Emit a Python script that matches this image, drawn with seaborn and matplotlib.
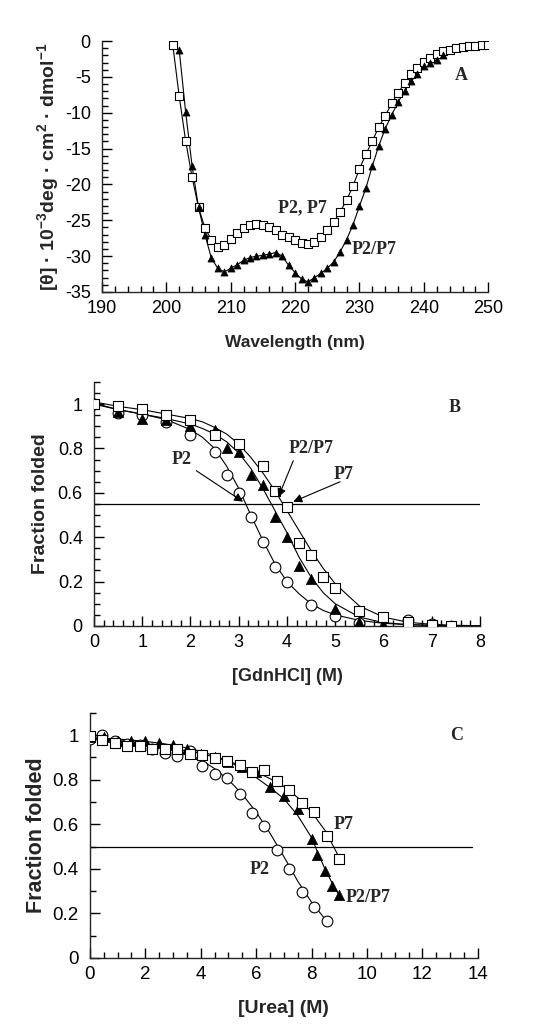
import numpy as np
import pandas as pd
import seaborn as sns
import matplotlib.pyplot as plt
from matplotlib.ticker import MultipleLocator

# ---- panel A: CD spectra ----
wl_sq = list(range(201, 251))
cd_sq = [-0.5, -7.7, -13.9, -19.0, -23.2, -26.1, -27.7, -28.7, -28.4, -27.6,
         -26.8, -26.1, -25.7, -25.5, -25.7, -26.0, -26.4, -27.0, -27.4, -27.8,
         -28.2, -28.3, -28.0, -27.4, -26.4, -25.3, -23.8, -22.2, -20.2, -17.8,
         -15.8, -13.9, -12.0, -10.4, -8.7, -7.2, -5.9, -4.6, -3.8, -2.9,
         -2.3, -1.8, -1.4, -1.2, -0.9, -0.8, -0.7, -0.7, -0.6, -0.6]
wl_tri = list(range(202, 244))
cd_tri = [-1.2, -9.9, -17.4, -23.2, -27.0, -30.3, -31.7, -32.2, -31.7, -31.2,
          -30.6, -30.2, -30.0, -29.9, -29.7, -29.5, -30.0, -31.3, -32.3, -33.2,
          -33.6, -33.0, -32.4, -31.7, -30.8, -29.4, -27.7, -25.6, -23.0, -20.5,
          -17.4, -14.6, -12.2, -10.3, -8.5, -7.0, -5.6, -4.6, -3.5, -3.0,
          -2.6, -2.0]

# ---- panel B: GdnHCl denaturation (points) ----
gdn_p7 = [0.0, 0.5, 1.0, 1.5, 2.0, 2.5, 3.0, 3.5, 3.75, 4.0, 4.25, 4.5, 4.75, 5.0, 5.5, 6.0, 6.5, 7.0, 7.4]
ff_p7 = [1.0, 0.99, 0.98, 0.95, 0.93, 0.86, 0.82, 0.72, 0.61, 0.535, 0.375, 0.32, 0.22, 0.17, 0.066, 0.04, 0.02, 0.003, 0.0]
gdn_p2 = [0.0, 0.5, 1.0, 1.5, 2.0, 2.5, 2.75, 3.0, 3.25, 3.5, 3.75, 4.0, 4.5, 5.0, 5.5, 6.5, 7.0]
ff_p2 = [1.0, 0.96, 0.95, 0.92, 0.86, 0.785, 0.68, 0.60, 0.49, 0.38, 0.265, 0.20, 0.093, 0.043, 0.015, 0.025, 0.01]
gdn_p27 = [0.0, 0.5, 1.0, 1.5, 2.0, 2.5, 2.75, 3.0, 3.25, 3.5, 3.75, 4.0, 4.25, 4.5, 5.0, 5.5, 6.0, 6.5, 7.0]
ff_p27 = [1.0, 0.965, 0.935, 0.93, 0.90, 0.885, 0.80, 0.785, 0.68, 0.635, 0.49, 0.40, 0.27, 0.21, 0.078, 0.018, 0.01, 0.0, 0.0]

# panel B fitted curves
gdn_fit = [0, 0.5, 1, 1.5, 2, 2.25, 2.5, 2.75, 3, 3.25, 3.5, 3.75, 4, 4.25, 4.5, 4.75, 5, 5.5, 6, 6.5, 7, 7.5, 8]
fit_b_p2 = [1.005, 0.975, 0.955, 0.93, 0.885, 0.85, 0.80, 0.72, 0.62, 0.50, 0.385, 0.28, 0.20, 0.145, 0.10,
            0.07, 0.05, 0.025, 0.012, 0.006, 0.003, 0.001, 0.0]
fit_b_p27 = [1.0, 0.975, 0.955, 0.935, 0.91, 0.89, 0.865, 0.83, 0.78, 0.71, 0.62, 0.52, 0.42, 0.31, 0.22,
             0.15, 0.10, 0.04, 0.015, 0.006, 0.002, 0.001, 0.0]
fit_b_p7 = [1.01, 0.99, 0.975, 0.955, 0.935, 0.92, 0.895, 0.865, 0.82, 0.76, 0.69, 0.61, 0.52, 0.43, 0.34,
            0.26, 0.19, 0.09, 0.04, 0.017, 0.007, 0.003, 0.001]

# ---- panel C: urea denaturation (points) ----
urea_p7 = [0.0, 0.45, 0.9, 1.35, 1.8, 2.25, 2.7, 3.15, 3.6, 4.05, 4.5, 4.95, 5.4, 5.85, 6.3, 6.75, 7.2, 7.65, 8.1, 8.55, 9.0]
ff_c_p7 = [0.995, 0.98, 0.963, 0.952, 0.952, 0.936, 0.94, 0.936, 0.915, 0.909, 0.896, 0.885, 0.866, 0.833, 0.843,
           0.794, 0.754, 0.694, 0.657, 0.548, 0.445]
urea_p2 = [0.0, 0.45, 0.9, 1.35, 1.8, 2.25, 2.7, 3.15, 3.6, 4.05, 4.5, 4.95, 5.4, 5.85, 6.3, 6.75, 7.2, 7.65, 8.1, 8.55]
ff_c_p2 = [0.985, 1.0, 0.975, 0.96, 0.955, 0.94, 0.92, 0.905, 0.93, 0.861, 0.824, 0.806, 0.734, 0.652, 0.594,
           0.485, 0.40, 0.296, 0.231, 0.164]
urea_p27 = [0.0, 0.5, 1.0, 1.5, 2.0, 2.5, 3.0, 3.5, 4.0, 4.5, 5.0, 5.5, 6.0, 6.5, 7.0, 7.5, 8.0, 8.2, 8.5, 8.75, 9.0]
ff_c_p27 = [0.99, 0.99, 0.975, 0.973, 0.973, 0.966, 0.958, 0.94, 0.915, 0.90, 0.881, 0.858, 0.833, 0.766, 0.728,
            0.669, 0.533, 0.463, 0.391, 0.325, 0.284]

# panel C fitted curves
urea_fit_p2 = [0, 0.5, 1, 1.5, 2, 2.5, 3, 3.5, 4, 4.5, 5, 5.5, 6, 6.5, 7, 7.5, 8, 8.55]
fit_c_p2 = [0.985, 0.982, 0.977, 0.97, 0.962, 0.952, 0.938, 0.918, 0.89, 0.85, 0.80, 0.735, 0.655, 0.56,
            0.455, 0.345, 0.25, 0.165]
urea_fit_p27 = [0, 0.5, 1, 1.5, 2, 2.5, 3, 3.5, 4, 4.5, 5, 5.5, 6, 6.5, 7, 7.5, 8, 8.25, 8.5, 8.75, 9]
fit_c_p27 = [0.99, 0.987, 0.983, 0.978, 0.972, 0.965, 0.955, 0.943, 0.928, 0.908, 0.882, 0.85, 0.81, 0.765,
             0.715, 0.64, 0.54, 0.465, 0.395, 0.335, 0.28]
urea_fit_p7 = [0, 0.5, 1, 1.5, 2, 2.5, 3, 3.5, 4, 4.5, 5, 5.5, 6, 6.5, 7, 7.5, 8, 8.5, 9]
fit_c_p7 = [0.985, 0.98, 0.972, 0.965, 0.957, 0.949, 0.94, 0.93, 0.918, 0.902, 0.883, 0.862, 0.835, 0.805,
            0.77, 0.72, 0.655, 0.57, 0.45]

MID_B = 0.55
MID_C = 0.5

sns.set_style('ticks')
plt.rcParams['font.family'] = ['Liberation Sans', 'DejaVu Sans']
plt.rcParams['mathtext.fontset'] = 'custom'
plt.rcParams['mathtext.rm'] = 'Liberation Sans:bold'
plt.rcParams['mathtext.default'] = 'rm'
plt.rcParams['axes.linewidth'] = 1.0

SERIF = ['Liberation Serif', 'DejaVu Serif']
LBL = dict(family=SERIF, fontweight='bold', fontsize=13, ha='center', va='center')

SQ = dict(marker='s', facecolor='white', edgecolor='black', linewidth=0.8)
CI = dict(marker='o', facecolor='white', edgecolor='black', linewidth=0.8)
TR = dict(marker='^', facecolor='black', edgecolor='black', linewidth=0.5)


def style_axes(ax, fs):
    sns.despine(ax=ax)
    ax.tick_params(axis='both', which='both', direction='in', labelsize=fs, colors='black')
    ax.tick_params(which='major', length=7, width=1)
    ax.tick_params(which='minor', length=4, width=1)
    ax.tick_params(axis='y', which='major', pad=8)
    ax.tick_params(axis='x', which='major', pad=6)


def line(ax, x, y, lw=0.8):
    sns.lineplot(x=x, y=y, ax=ax, color='black', lw=lw, sort=False, estimator=None, zorder=2)


def points(ax, x, y, s, **mk):
    sns.scatterplot(x=x, y=y, ax=ax, s=s, zorder=3, **mk)


fig = plt.figure(figsize=(5.48, 10.27), dpi=100)

# Panel A
axA = fig.add_axes([0.186, 0.7157, 0.705, 0.2443])
line(axA, wl_sq, cd_sq)
line(axA, wl_tri, cd_tri)
points(axA, wl_sq, cd_sq, 30, **SQ)
points(axA, wl_tri, cd_tri, 26, **TR)
axA.set_xlim(190, 250)
axA.set_ylim(-35, 0)
axA.xaxis.set_major_locator(MultipleLocator(10))
axA.xaxis.set_minor_locator(MultipleLocator(2))
axA.yaxis.set_minor_locator(MultipleLocator(1))
axA.set_yticks(range(-35, 1, 5))
axA.set_yticklabels([str(v) for v in range(-35, 1, 5)])
style_axes(axA, 13)
axA.set_xlabel('Wavelength (nm)', fontsize=12.5, fontweight='bold', labelpad=13)
axA.set_ylabel(r'[θ] · 10$^{-3}$deg · cm$^{2}$ · dmol$^{-1}$', fontsize=14,
               fontweight='bold', labelpad=3)
axA.text(245.8, -4.8, 'A', **LBL)
axA.text(221.1, -23.2, 'P2, P7', **LBL)
axA.text(232.2, -29.1, 'P2/P7', **LBL)

# Panel B
axB = fig.add_axes([0.1715, 0.3905, 0.7044, 0.2376])
axB.axhline(MID_B, color='black', lw=0.9)
line(axB, gdn_fit, fit_b_p2)
line(axB, gdn_fit, fit_b_p27)
line(axB, gdn_fit, fit_b_p7)
points(axB, gdn_p2, ff_p2, 60, **CI)
points(axB, gdn_p27, ff_p27, 55, **TR)
points(axB, gdn_p7, ff_p7, 60, **SQ)
axB.set_xlim(0, 8)
axB.set_ylim(0, 1.1)
axB.set_xticks(range(0, 9))
axB.xaxis.set_minor_locator(MultipleLocator(0.2))
axB.set_yticks([0, 0.2, 0.4, 0.6, 0.8, 1.0])
axB.set_yticklabels(['0', '0.2', '0.4', '0.6', '0.8', '1'])
axB.yaxis.set_minor_locator(MultipleLocator(0.05))
style_axes(axB, 13)
axB.set_xlabel('[GdnHCl] (M)', fontsize=13, fontweight='bold', labelpad=12)
axB.set_ylabel('Fraction folded', fontsize=14, fontweight='bold', labelpad=6)
arrow = dict(arrowstyle='-|>', color='black', lw=0.8, mutation_scale=13, shrinkA=0, shrinkB=0)
axB.text(7.48, 0.985, 'B', **LBL)
axB.text(1.81, 0.75, 'P2', **LBL)
axB.annotate('', xy=(3.09, 0.56), xytext=(2.12, 0.70), arrowprops=arrow)
axB.text(4.51, 0.80, 'P2/P7', **LBL)
axB.annotate('', xy=(3.82, 0.58), xytext=(4.13, 0.745), arrowprops=arrow)
axB.text(5.17, 0.685, 'P7', **LBL)
axB.annotate('', xy=(4.13, 0.56), xytext=(5.1, 0.65), arrowprops=arrow)

# Panel C
axC = fig.add_axes([0.164, 0.0672, 0.708, 0.2386])
axC.axhline(MID_C, xmax=0.985, color='black', lw=0.9)
line(axC, urea_fit_p2, fit_c_p2)
line(axC, urea_fit_p27, fit_c_p27)
line(axC, urea_fit_p7, fit_c_p7)
points(axC, urea_p2, ff_c_p2, 60, **CI)
points(axC, urea_p27, ff_c_p27, 55, **TR)
points(axC, urea_p7, ff_c_p7, 60, **SQ)
axC.set_xlim(0, 14)
axC.set_ylim(0, 1.1)
axC.set_xticks(range(0, 15, 2))
axC.xaxis.set_minor_locator(MultipleLocator(0.5))
axC.set_yticks([0, 0.2, 0.4, 0.6, 0.8, 1.0])
axC.set_yticklabels(['0', '0.2', '0.4', '0.6', '0.8', '1'])
axC.yaxis.set_minor_locator(MultipleLocator(0.1))
style_axes(axC, 13.5)
axC.set_xlabel('[Urea] (M)', fontsize=14, fontweight='bold', labelpad=12)
axC.set_ylabel('Fraction folded', fontsize=15.5, fontweight='bold', labelpad=4)
axC.text(13.24, 1.0, 'C', **LBL)
axC.text(9.14, 0.60, 'P7', **LBL)
axC.text(6.13, 0.395, 'P2', **LBL)
axC.text(10.05, 0.27, 'P2/P7', **LBL)

fig.savefig('out.png', dpi=100)
